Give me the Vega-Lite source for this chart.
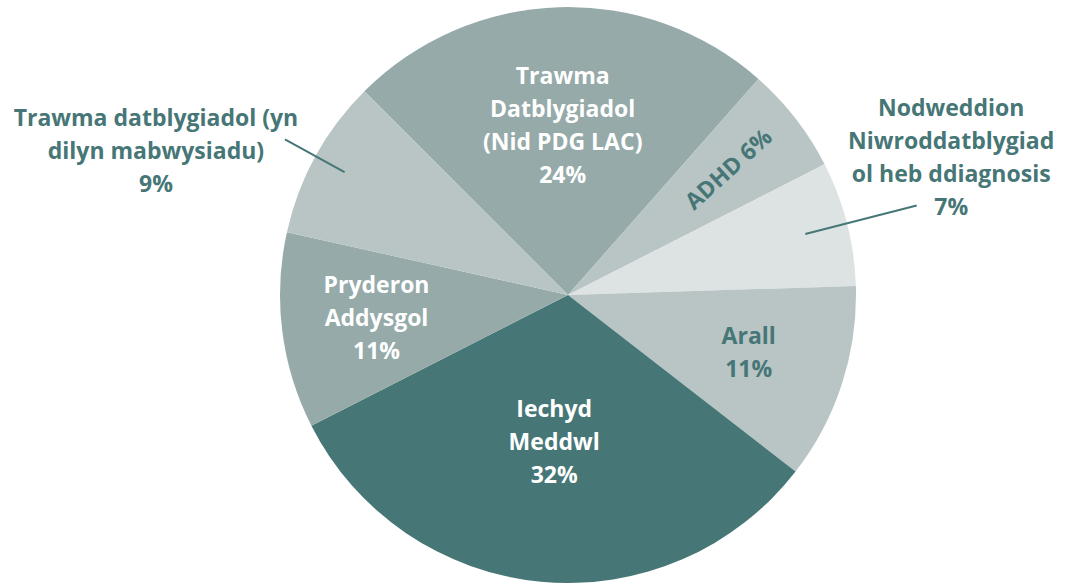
{
  "$schema": "https://vega.github.io/schema/vega-lite/v6.json",
  "autosize": {"type": "none"},
  "width": 998,
  "height": 578,
  "padding": {"left": 69, "top": 6, "right": 0, "bottom": 0},
  "background": "white",
  "view": {"stroke": null},
  "config": {"text": {"font": "Open Sans", "fontWeight": "bold", "fontSize": 23, "lineHeight": 33, "lineBreak": "\n", "align": "center", "baseline": "middle"}},
  "data": {"values": [
    {"category": "Trawma Datblygiadol (Nid PDG LAC)", "label": "Trawma\nDatblygiadol\n(Nid PDG LAC)\n24%", "value": 24, "order": 1},
    {"category": "ADHD", "label": "ADHD 6%", "value": 6, "order": 2},
    {"category": "Nodweddion Niwroddatblygiadol heb ddiagnosis", "label": "Nodweddion\nNiwroddatblygiad\nol heb ddiagnosis\n7%", "value": 7, "order": 3},
    {"category": "Arall", "label": "Arall\n11%", "value": 11, "order": 4},
    {"category": "Iechyd Meddwl", "label": "Iechyd\nMeddwl\n32%", "value": 32, "order": 5},
    {"category": "Pryderon Addysgol", "label": "Pryderon\nAddysgol\n11%", "value": 11, "order": 6},
    {"category": "Trawma datblygiadol (yn dilyn mabwysiadu)", "label": "Trawma datblygiadol (yn\ndilyn mabwysiadu)\n9%", "value": 9, "order": 7}
  ]},
  "transform": [
    {"stack": "value", "groupby": [], "sort": [{"field": "order", "order": "ascending"}], "as": ["v0", "v1"]},
    {"calculate": "(datum.v0 + datum.v1) / 2", "as": "mid"}
  ],
  "layer": [
    {
      "mark": {"type": "arc", "radius": 288, "stroke": null},
      "encoding": {
        "theta": {"field": "v0", "type": "quantitative", "stack": null, "scale": {"domain": [0, 100], "range": [-0.7854, 5.4978]}},
        "theta2": {"field": "v1"},
        "color": {"field": "category", "type": "nominal", "legend": null, "scale": {
          "domain": ["Trawma Datblygiadol (Nid PDG LAC)", "ADHD", "Nodweddion Niwroddatblygiadol heb ddiagnosis", "Arall", "Iechyd Meddwl", "Pryderon Addysgol", "Trawma datblygiadol (yn dilyn mabwysiadu)"],
          "range": ["#95aaa9", "#b9c5c5", "#dde3e3", "#b9c5c5", "#467676", "#95aaa9", "#b9c5c5"]}}
      }
    },
    {
      "transform": [{"filter": "datum.order == 3"}],
      "mark": {"type": "arc", "radius": 360, "radius2": 245, "filled": false, "stroke": "#467676", "strokeWidth": 2},
      "encoding": {
        "theta": {"field": "mid", "type": "quantitative", "stack": null},
        "theta2": {"field": "mid"}
      }
    },
    {
      "transform": [{"filter": "datum.order == 7"}],
      "mark": {"type": "arc", "radius": 323, "radius2": 255, "filled": false, "stroke": "#467676", "strokeWidth": 2},
      "encoding": {
        "theta": {"field": "mid", "type": "quantitative", "stack": null},
        "theta2": {"field": "mid"}
      }
    },
    {
      "transform": [{"filter": "datum.order == 1"}],
      "mark": {"type": "text", "radius": 169, "dy": -49.5, "fill": "white"},
      "encoding": {"theta": {"field": "mid", "type": "quantitative", "stack": null}, "text": {"field": "label"}}
    },
    {
      "transform": [{"filter": "datum.order == 2"}],
      "mark": {"type": "text", "radius": 204, "fill": "#467676", "angle": 318},
      "encoding": {"theta": {"field": "mid", "type": "quantitative", "stack": null}, "text": {"field": "label"}}
    },
    {
      "transform": [{"filter": "datum.order == 3"}],
      "mark": {"type": "text", "radius": 407, "dx": -11, "dy": -85, "fill": "#467676"},
      "encoding": {"theta": {"field": "mid", "type": "quantitative", "stack": null}, "text": {"field": "label"}}
    },
    {
      "transform": [{"filter": "datum.order == 4"}],
      "mark": {"type": "text", "radius": 190, "dy": -16.5, "fill": "#467676"},
      "encoding": {"theta": {"field": "mid", "type": "quantitative", "stack": null}, "text": {"field": "label"}}
    },
    {
      "transform": [{"filter": "datum.order == 5"}],
      "mark": {"type": "text", "radius": 147, "dy": -31, "fill": "white"},
      "encoding": {"theta": {"field": "mid", "type": "quantitative", "stack": null}, "text": {"field": "label"}}
    },
    {
      "transform": [{"filter": "datum.order == 6"}],
      "mark": {"type": "text", "radius": 193, "dy": -33, "fill": "white"},
      "encoding": {"theta": {"field": "mid", "type": "quantitative", "stack": null}, "text": {"field": "label"}}
    },
    {
      "transform": [{"filter": "datum.order == 7"}],
      "mark": {"type": "text", "radius": 436, "dx": -30, "dy": 34, "fill": "#467676"},
      "encoding": {"theta": {"field": "mid", "type": "quantitative", "stack": null}, "text": {"field": "label"}}
    }
  ]
}
